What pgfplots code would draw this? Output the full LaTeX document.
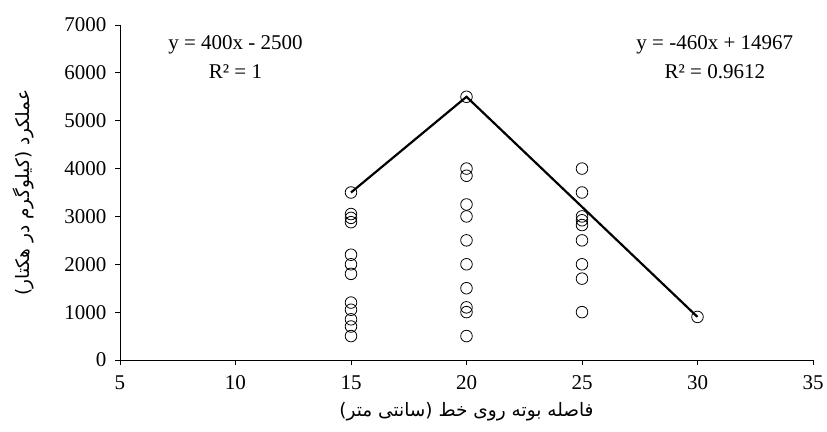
\documentclass[border=0pt]{standalone}
\usepackage{fontspec}
\setmainfont{Liberation Serif}
\newfontfamily\arabicfont[Script=Arabic]{DejaVu Sans}
\TeXXeTstate=1
\usepackage{pgfplots}
\usepackage{pgfplotstable}
\pgfplotsset{compat=1.18}

\pgfplotstableread{
x y
15 3500
15 3050
15 2970
15 2880
15 2200
15 2000
15 1800
15 1200
15 1050
15 850
15 700
15 500
20 5500
20 4000
20 3850
20 3250
20 3000
20 2500
20 2000
20 1500
20 1100
20 1000
20 500
25 4000
25 3500
25 3000
25 2920
25 2820
25 2500
25 2000
25 1700
25 1000
30 900
}\pts

\begin{document}
\begin{tikzpicture}[font=\fontsize{21bp}{29bp}\selectfont]
\begin{axis}[
  scale only axis, width=693bp, height=335bp,
  xmin=5, xmax=35, ymin=0, ymax=7000,
  xtick={5,10,...,35}, ytick={0,1000,...,7000},
  axis x line=bottom, axis y line=left,
  axis line style={-, black, line width=0.8pt},
  tick align=outside, major tick length=5bp,
  tick style={black, line width=0.8pt},
  /pgf/number format/assume math mode=true,
  /pgf/number format/1000 sep={},
  yticklabel style={xshift=-5bp},
  xticklabel style={yshift=-7bp},
  xlabel={\arabicfont\fontsize{18.5bp}{20bp}\selectfont\beginR فاصله بوته روی خط (سانتی متر)\endR},
  ylabel={\arabicfont\fontsize{18.5bp}{20bp}\selectfont\beginR عملکرد (کیلوگرم در هکتار)\endR},
  xlabel shift=6bp,
  ylabel shift=24bp,
  clip=false,
]
\addplot[only marks, mark=o, mark size=5.8bp, mark options={black, line width=0.8pt}] table[x=x,y=y] {\pts};
\addplot[black, line width=2.2pt, no marks] coordinates {(15,3500) (20,5500) (30,900)};
\node[align=center] at (axis cs:10,6321) {y = 400x - 2500\\R² = 1};
\node[align=center] at (axis cs:30.75,6321) {y = -460x + 14967\\R² = 0.9612};
\end{axis}
\pgfresetboundingbox
\useasboundingbox (-120bp,-72bp) rectangle (707bp,360bp);
\end{tikzpicture}
\end{document}
